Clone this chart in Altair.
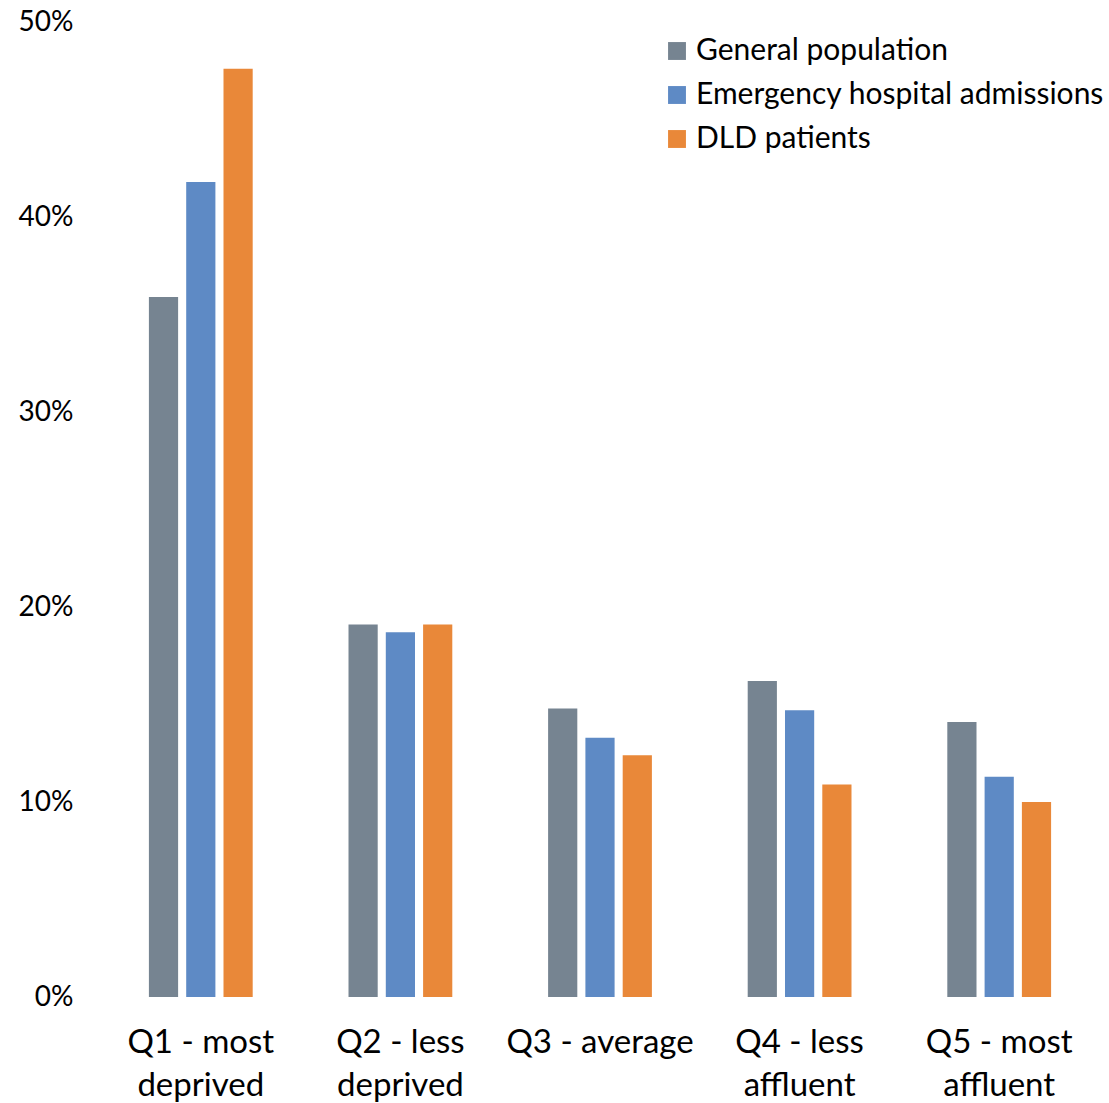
import altair as alt
import pandas as pd

# Deprivation quintiles and the share of each group falling in them
quintiles = ["Q1 - most deprived", "Q2 - less deprived", "Q3 - average",
             "Q4 - less affluent", "Q5 - most affluent"]
series = ["General population", "Emergency hospital admissions", "DLD patients"]
general_population = [35.9, 19.1, 14.8, 16.2, 14.1]
emergency_admissions = [41.8, 18.7, 13.3, 14.7, 11.3]
dld_patients = [47.6, 19.1, 12.4, 10.9, 10.0]
colors = ["#768491", "#5E8AC5", "#E98839"]

rows = []
for name, values in zip(series, [general_population, emergency_admissions, dld_patients]):
    for q, v in zip(quintiles, values):
        rows.append({"quintile": q, "group": name, "share": v / 100})
df = pd.DataFrame(rows)

FONT = "Lato"

split_label = (
    "length(datum.value) > 12 ? "
    "[substring(datum.value, 0, lastindexof(datum.value, ' ')), "
    "substring(datum.value, lastindexof(datum.value, ' ') + 1)] : datum.value"
)

chart = alt.Chart(df).mark_bar().encode(
    x=alt.X("quintile:N", sort=quintiles, title=None,
            scale=alt.Scale(paddingInner=0.48, paddingOuter=0.24),
            axis=alt.Axis(labelAngle=0, labelFont=FONT, labelFontSize=33,
                          labelColor="#000000", labelPadding=29,
                          labelLineHeight=43, labelExpr=split_label,
                          labelLimit=400,
                          domain=False, ticks=False, grid=False)),
    xOffset=alt.XOffset("group:N", sort=series,
                        scale=alt.Scale(paddingInner=0.217, paddingOuter=0)),
    y=alt.Y("share:Q", title=None,
            scale=alt.Scale(domain=[0, 0.5], nice=False),
            axis=alt.Axis(format=".0%", values=[0, 0.1, 0.2, 0.3, 0.4, 0.5],
                          labelFont=FONT, labelFontSize=28, labelColor="#000000",
                          labelPadding=28, domain=False, ticks=False, grid=False)),
    color=alt.Color("group:N", sort=series,
                    scale=alt.Scale(domain=series, range=colors),
                    legend=alt.Legend(title=None, orient="none", legendX=561,
                                      legendY=14, symbolType="square",
                                      symbolSize=320, symbolStrokeWidth=0,
                                      labelFont=FONT, labelFontSize=30,
                                      labelColor="#000000", rowPadding=14,
                                      labelOffset=4, labelLimit=600)),
).properties(
    width=998, height=975,
    background="white",
    autosize=alt.AutoSizeParams(type="none"),
    padding={"left": 101, "top": 22, "right": 10, "bottom": 106},
).configure_view(stroke=None, strokeWidth=0)

chart.save("out.html", embed_options={"renderer": "svg", "actions": False})
